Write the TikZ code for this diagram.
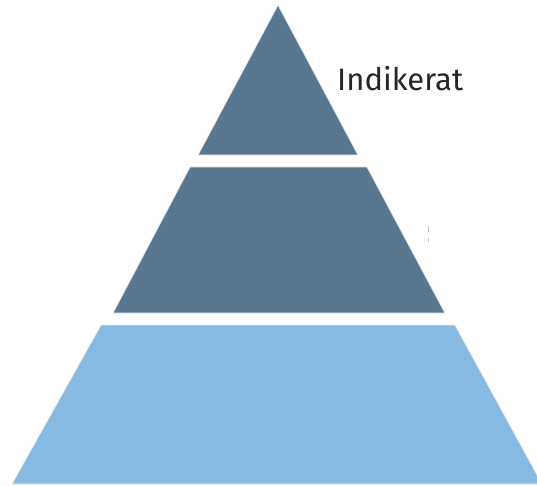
\documentclass[tikz,border=0pt]{standalone}
\usepackage{fontspec}
\setmainfont{Fira Sans}
\definecolor{darkblue}{RGB}{88,120,146}
\definecolor{lightblue}{RGB}{135,186,227}
\begin{document}
\begin{tikzpicture}[x=1pt,y=-1pt,
  tier/.style={line width=0.8pt, draw=white!85!gray},
  lbl/.style={font=\fontsize{31}{35}\selectfont, text=black!85, inner sep=0pt, anchor=base west}]
\useasboundingbox (0,0) rectangle (537,486);
\fill[white] (0,0) rectangle (537,486);
\begin{scope}
\clip (0,0) rectangle (537,486);
% top triangle
\path[tier, fill=darkblue] (278,5) -- (358,155) -- (198,155) -- cycle;
% middle trapezoid
\path[tier, fill=darkblue] (190,167) -- (367,167) -- (445,313) -- (113,313) -- cycle;
% bottom trapezoid
\path[tier, fill=lightblue] (101,325) -- (455,325) -- (542,484) -- (12,484) -- cycle;
\end{scope}
\node[lbl] (lab) at (337,91) {Indikerat};
\draw[black!25, line width=0.6pt] (428,226) -- (428,232) (428,238) -- (428,242);
\end{tikzpicture}
\end{document}
